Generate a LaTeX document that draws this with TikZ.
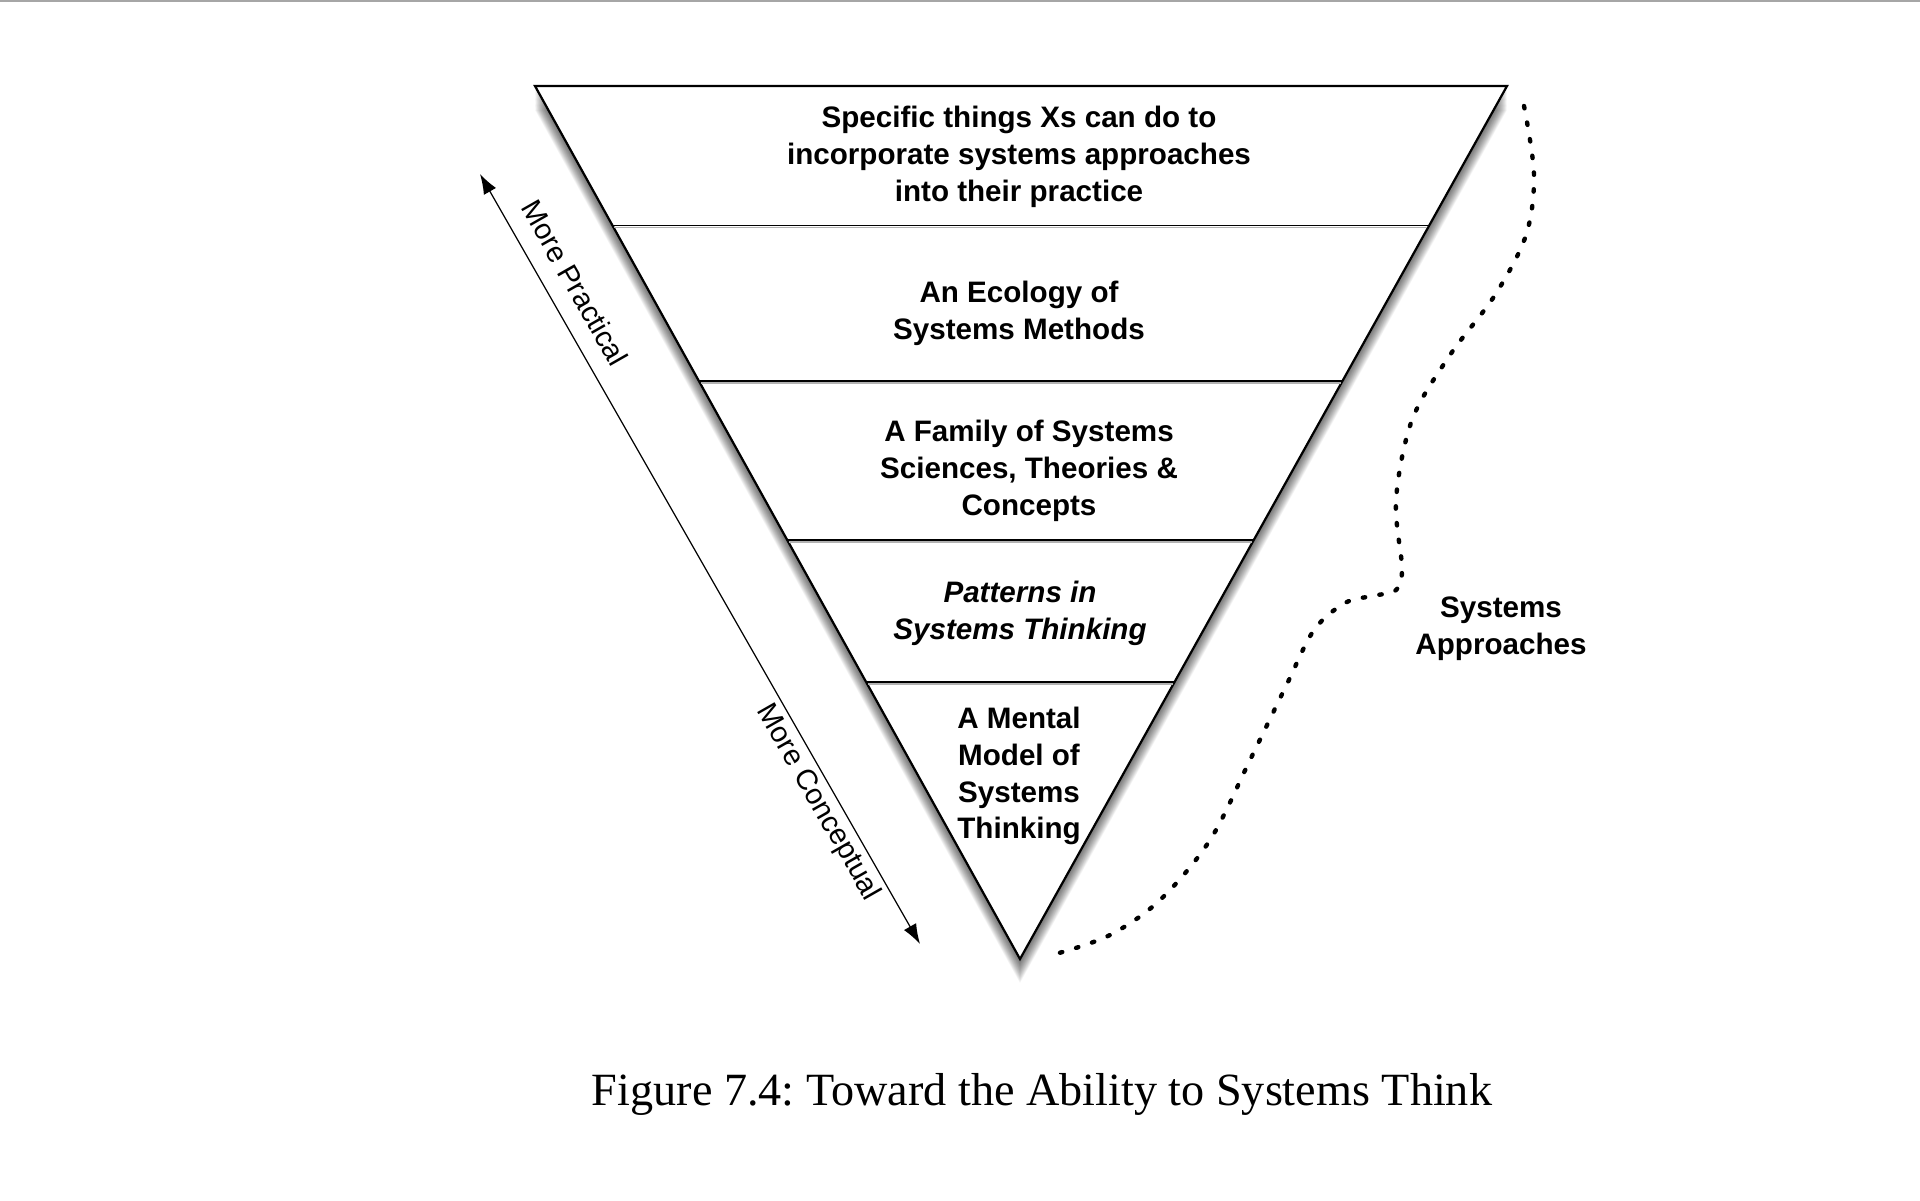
\documentclass[tikz,border=0pt]{standalone}
\usepackage{fontspec}
\setmainfont{Liberation Serif}
\newfontfamily\helv{Liberation Sans}
\usetikzlibrary{arrows.meta,calc}
\frenchspacing
\begin{document}
\begin{tikzpicture}[x=0.5pt,y=-0.5pt,
  lbl/.style={font=\helv\bfseries\fontsize{14.8}{18.4}\selectfont, align=center, inner sep=0pt},
  lblit/.style={font=\helv\bfseries\itshape\fontsize{14.8}{18.4}\selectfont, align=center, inner sep=0pt},
  sidelbl/.style={font=\helv\fontsize{14.5}{17}\selectfont, inner sep=0pt},
  caplbl/.style={font=\fontsize{23.1}{27}\selectfont, inner sep=0pt},
  edgeline/.style={line width=1.1pt, line join=miter},
  divider/.style={line width=0.8pt},
  divshadow/.style={line width=0.8pt, black!30},
  shadowfill/.style={black, opacity=0.035},
  dotline/.style={line width=2.2pt, line cap=round, dash pattern=on 1.2pt off 7.2pt},
  twoarrow/.style={{Latex[length=10pt,width=7pt]}-{Latex[length=10pt,width=7pt]}, line width=0.6pt}]
\useasboundingbox (0,0) rectangle (1920,1200);
\fill[white] (0,0) rectangle (1920,1200);
\draw[black!35, line width=1pt] (0,1) -- (1920,1);
% shadow
\foreach \i in {1,...,20} {
  \fill[shadowfill, shift={(0,1.2*\i)}] (535,86) -- (1507,86) -- (1020,959) -- cycle;
}
\coordinate (TL) at (535,86);
\coordinate (TR) at (1507,86);
\coordinate (AP) at (1020,959);
\filldraw[fill=white, edgeline] (TL) -- (TR) -- (AP) -- cycle;
% dividers
\foreach \t in {0.1596,0.3376,0.5200,0.6827} {
  \draw[divshadow] ($(TL)!\t!(AP)+(2,2)$) -- ($(TR)!\t!(AP)+(-2,2)$);
  \draw[divider] ($(TL)!\t!(AP)$) -- ($(TR)!\t!(AP)$);
}
% texts
\node[lbl] (b1) at (1019,157) {Specific things Xs can do to\\incorporate systems approaches\\into their practice};
\node[lbl] (b2) at (1019,313) {An Ecology of\\Systems Methods};
\node[lbl] (b3) at (1029,471) {A Family of Systems\\Sciences, Theories \&\\Concepts};
\node[lblit] (b4) at (1020,613) {Patterns in\\Systems Thinking};
\node[lbl] (b5) at (1019,776) {A Mental\\Model of\\Systems\\Thinking};
\node[lbl] (sa) at (1501,629) {Systems\\Approaches};
% arrow
\coordinate (PA) at (480,174);
\coordinate (CA) at (920,944);
\draw[twoarrow] (PA) -- (CA);
\node[sidelbl, rotate=-60.3] (mp) at (575,283) {More Practical};
\node[sidelbl, rotate=-60.3] (mc) at (818,803) {More Conceptual};
% dotted brace
\coordinate (ds) at (1524,106);
\coordinate (de) at (1059,953);
\draw[dotline] plot[smooth, tension=0.55] coordinates {(1524,106) (1534,175) (1526,235) (1495,295) (1450,355) (1412,420) (1396,500) (1402,568) (1396,590) (1372,596) (1345,603) (1314,630) (1286,686) (1250,760) (1210,840) (1160,900) (1110,935) (1059,953)};
% caption
\node[caplbl] (cap) at (1042,1094) {Figure 7.4: Toward the Ability to Systems Think};
\end{tikzpicture}
\end{document}
